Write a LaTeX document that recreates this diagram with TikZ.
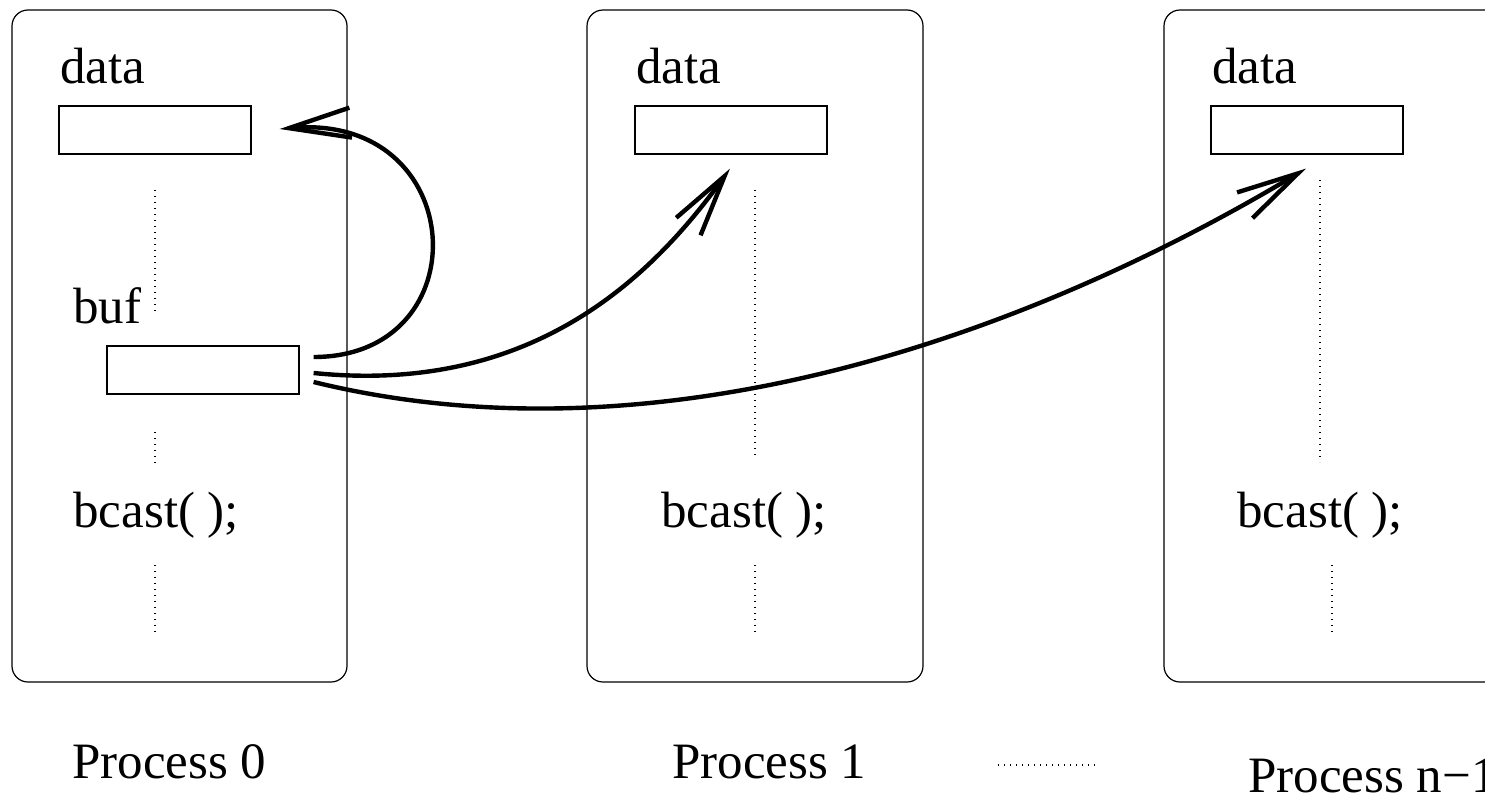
\documentclass[tikz,border=0pt]{standalone}
\usepackage{fontspec}
\setmainfont{Liberation Serif}
\usetikzlibrary{arrows.meta,calc}

\tikzset{
  proc/.style={draw, line width=0.6pt, rounded corners=8pt},
  cell/.style={draw, line width=0.6pt, minimum width=96pt, minimum height=24pt, inner sep=0pt},
  lbl/.style={anchor=base west, inner sep=0pt, font=\fontsize{25.5}{30}\selectfont},
  dots/.style={line width=0.6pt, dash pattern=on 0.6pt off 2.4pt},
  send/.style={line width=2.2pt, -{Straight Barb[length=31pt, width=15pt, line width=2.2pt]}}
}

\begin{document}
\begin{tikzpicture}[x=0.5pt, y=-0.5pt]
  \useasboundingbox (0,0) rectangle (1485,793);
  \clip (0,0) rectangle (1485,793);

  % process frames
  \draw[proc] (12,10) rectangle (347,682);
  \draw[proc] (587,10) rectangle (923,682);
  \draw[proc] (1164,10) rectangle (1500,682);

  % process 0
  \node[lbl] (data0) at (60,83) {data};
  \node[cell] (d0) at (155,130) {};
  \draw[dots] (155,190) coordinate (a0) -- (155,312) coordinate (b0);
  \node[lbl] (buf) at (73,323) {buf};
  \node[cell] (bufbox) at (203,370) {};
  \draw[dots] (155,432) coordinate (c0) -- (155,465) coordinate (e0);
  \node[lbl] (bc0) at (73,527) {bcast( );};
  \draw[dots] (155,565) coordinate (f0) -- (155,635) coordinate (g0);
  \node[lbl] (p0) at (72,778) {Process 0};

  % process 1
  \node[lbl] (data1) at (636,83) {data};
  \node[cell] (d1) at (731,130) {};
  \draw[dots] (755,190) coordinate (a1) -- (755,455) coordinate (b1);
  \node[lbl] (bc1) at (661,527) {bcast( );};
  \draw[dots] (755,565) coordinate (f1) -- (755,635) coordinate (g1);
  \node[lbl] (p1) at (672,778) {Process 1};

  % ellipsis between the last two processes
  \draw[dots] (998,765) coordinate (h1) -- (1097,765) coordinate (h2);

  % process n-1
  \node[lbl] (data2) at (1212,83) {data};
  \node[cell] (d2) at (1307,130) {};
  \draw[dots] (1320,180) coordinate (a2) -- (1320,462) coordinate (b2);
  \node[lbl] (bc2) at (1237,527) {bcast( );};
  \draw[dots] (1332,565) coordinate (f2) -- (1332,635) coordinate (g2);
  \node[lbl] (p2) at (1248,792) {Process n−1};

  % broadcast arrows leaving buf
  \coordinate (s0) at ($(bufbox.east)+(14,-13)$);
  \coordinate (s1) at ($(bufbox.east)+(14,3)$);
  \coordinate (s2) at ($(bufbox.east)+(14,12)$);
  \coordinate (t0) at ($(d0.east)+(28,-1)$);
  \coordinate (t1) at ($(d1.south)+(-1,14)$);
  \coordinate (t2) at ($(d2.south)+(-1,14)$);

  \draw[send] (s0) .. controls (482,357) and (470,112) .. (t0);
  \draw[send] (s1) .. controls (530,395) and (650,280) .. (t1);
  \draw[send] (s2) .. controls (640,462) and (1000,352) .. (t2);
\end{tikzpicture}
\end{document}
